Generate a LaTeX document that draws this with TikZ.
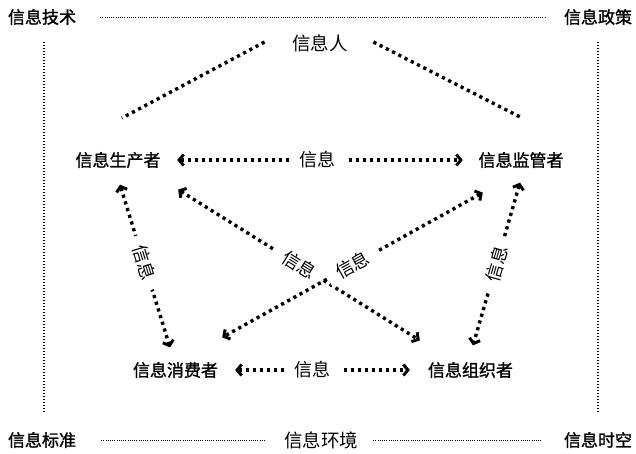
\documentclass[tikz,border=0pt]{standalone}
\usepackage{fontspec}
\setmainfont{Noto Sans CJK SC}
\newfontfamily\cjkmain[FakeBold=1.3]{Noto Sans CJK SC}
\usetikzlibrary{arrows.meta}
\tikzset{
  mainlab/.style={font=\cjkmain\fontsize{17}{19}\selectfont, inner sep=0pt},
  infolab/.style={font=\fontsize{18.5}{20}\selectfont, inner sep=0pt},
  linklab/.style={font=\fontsize{18}{20}\selectfont, fill=white, inner xsep=10pt, inner ysep=0.5pt},
  finedots/.style={line width=1pt, dash pattern=on 1pt off 1.2pt},
  vdots/.style={line width=1.3pt, dash pattern=on 1.3pt off 1.7pt},
  thickdots/.style={line width=3.4pt, dash pattern=on 3.2pt off 3.8pt},
  tipend/.tip={Straight Barb[length=4.5pt,width=11pt,line width=3pt]},
  biarrow/.style={thickdots, tipend-tipend},
}
\begin{document}
\begin{tikzpicture}[x=1pt,y=-1pt]
\path[use as bounding box] (0,0) rectangle (636,453);

% corner and central labels
\node[mainlab] (tech) at (42,17) {信息技术};
\node[mainlab] (policy) at (598,17) {信息政策};
\node[mainlab] (std) at (42,440) {信息标准};
\node[mainlab] (time) at (598,440) {信息时空};
\node[infolab] (env) at (321,440) {信息环境};
\node[infolab] (person) at (320,43) {信息人};

% actors
\node[mainlab] (prod) at (118,160) {信息生产者};
\node[mainlab] (sup) at (521,160) {信息监管者};
\node[mainlab] (cons) at (175.5,370) {信息消费者};
\node[mainlab] (org) at (470.5,370) {信息组织者};

% frame of fine dotted lines
\draw[finedots] ([xshift=24pt]tech.east) -- ([xshift=-19pt]policy.west);
\draw[finedots] ([xshift=25pt]std.east) -- ([xshift=-19pt]env.west);
\draw[finedots] ([xshift=15pt]env.east) -- ([xshift=-22pt]time.west);
\draw[vdots] ([shift={(2pt,-16.5pt)}]tech.south) -- ([shift={(2pt,19.5pt)}]std.north);
\draw[vdots] ([shift={(0pt,-16.5pt)}]policy.south) -- ([shift={(0pt,19.5pt)}]time.north);

% lines from 信息人
\coordinate (pl) at (122,118);
\coordinate (pr) at (522,118);
\draw[thickdots] ([shift={(-27.5pt,1pt)}]person.west) -- (pl);
\draw[thickdots] ([shift={(25.5pt,1pt)}]person.east) -- (pr);

% information flows
\draw[biarrow] ([xshift=16.5pt]prod.east) -- node[linklab, pos=0.49] {信息} ([xshift=-15.5pt]sup.west);
\draw[biarrow] ([xshift=17pt]cons.east) -- node[linklab, pos=0.44] {信息} ([xshift=-18pt]org.west);
\draw[biarrow] ([shift={(2pt,-16.5pt)}]prod.south) -- node[linklab, sloped, pos=0.48] {信息} ([shift={(-5.5pt,14.5pt)}]cons.north);
\draw[biarrow] ([shift={(-1pt,-14.5pt)}]sup.south) -- node[linklab, sloped, pos=0.5] {信息} ([shift={(2.5pt,16.5pt)}]org.north);
\draw[biarrow] ([shift={(17.5pt,-21.5pt)}]prod.south east) -- node[linklab, sloped, pos=0.5] {信息} ([shift={(-8pt,21.5pt)}]org.north west);
\draw[biarrow] ([shift={(4.5pt,-24.5pt)}]sup.south west) -- node[linklab, sloped, pos=0.5] {信息} ([shift={(4pt,24.5pt)}]cons.north east);
\end{tikzpicture}
\end{document}
